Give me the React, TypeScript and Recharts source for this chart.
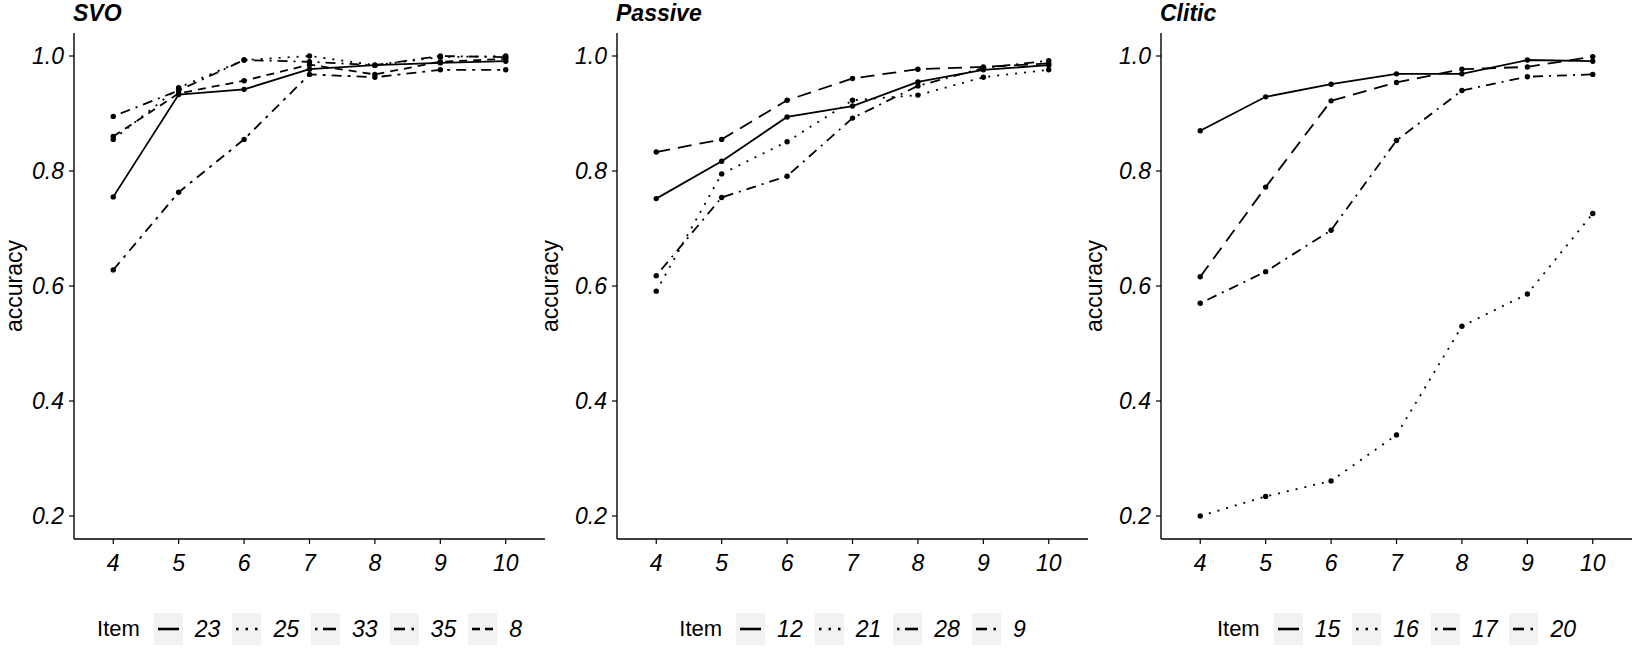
import React from "react";
import { LineChart, Line, XAxis, YAxis } from "recharts";

// x = sentence length (words), y = accuracy
const sizes = [4, 5, 6, 7, 8, 9, 10];
const xTicks = [4, 5, 6, 7, 8, 9, 10];
const yTicks = [0.2, 0.4, 0.6, 0.8, 1.0];

/* ---------- SVO ---------- */
const svoItems = ["23", "25", "33", "35", "8"];
const svo23 = [0.755, 0.933, 0.942, 0.977, 0.984, 0.988, 0.991];
const svo25 = [0.855, 0.945, 0.993, 1.0, 0.984, 0.998, 1.0];
const svo33 = [0.895, 0.94, 0.993, 0.99, 0.984, 1.0, 0.998];
const svo35 = [0.628, 0.763, 0.855, 0.968, 0.963, 0.976, 0.976];
const svo8 = [0.86, 0.935, 0.957, 0.985, 0.968, 0.99, 0.995];

/* ---------- Passive ---------- */
const passiveItems = ["12", "21", "28", "9"];
const passive12 = [0.752, 0.817, 0.894, 0.913, 0.955, 0.976, 0.984];
const passive21 = [0.591, 0.795, 0.851, 0.923, 0.932, 0.963, 0.976];
const passive28 = [0.618, 0.754, 0.791, 0.892, 0.948, 0.979, 0.992];
const passive9 = [0.833, 0.855, 0.923, 0.961, 0.977, 0.981, 0.987];

/* ---------- Clitic ---------- */
const cliticItems = ["15", "16", "17", "20"];
const clitic15 = [0.87, 0.929, 0.951, 0.969, 0.969, 0.993, 0.991];
const clitic16 = [0.2, 0.234, 0.261, 0.341, 0.53, 0.586, 0.726];
const clitic17 = [0.57, 0.625, 0.697, 0.853, 0.94, 0.964, 0.968];
const clitic20 = [0.616, 0.772, 0.922, 0.954, 0.977, 0.981, 0.999];

type KeyKind = "solid" | "dotted" | "dotdash" | "dashdot" | "dashed";

const FONT = '"Liberation Sans", Arial, Helvetica, sans-serif';
const PLOT_W = 471;
const AXIS_W = 74;
const PLOT_TOP = 33;
const PLOT_BOTTOM = 539;

function buildRows(series: number[][]) {
  return sizes.map((s, i) => {
    const row: Record<string, number> = { size: s };
    series.forEach((arr, k) => {
      row[`s${k}`] = arr[i];
    });
    return row;
  });
}

/* small glyphs inside the grey legend keys */
function KeyGlyph({ kind }: { kind: KeyKind }) {
  const common = { stroke: "#000", strokeWidth: 2.6 };
  let body: React.ReactNode = null;
  if (kind === "solid") body = <line x1={4} x2={25} y1={16} y2={16} {...common} />;
  if (kind === "dotted")
    body = (
      <>
        <line x1={4} x2={6.5} y1={16} y2={16} {...common} />
        <line x1={13.5} x2={16} y1={16} y2={16} {...common} />
        <line x1={23} x2={25.5} y1={16} y2={16} {...common} />
      </>
    );
  if (kind === "dotdash")
    body = (
      <>
        <line x1={4} x2={6.5} y1={16} y2={16} {...common} />
        <line x1={12} x2={25} y1={16} y2={16} {...common} />
      </>
    );
  if (kind === "dashdot")
    body = (
      <>
        <line x1={4} x2={15} y1={16} y2={16} {...common} />
        <line x1={21.5} x2={24} y1={16} y2={16} {...common} />
      </>
    );
  if (kind === "dashed")
    body = (
      <>
        <line x1={4} x2={12} y1={16} y2={16} {...common} />
        <line x1={17} x2={25} y1={16} y2={16} {...common} />
      </>
    );
  return (
    <svg width={29} height={32} style={{ display: "block", background: "#f2f2f2" }}>
      {body}
    </svg>
  );
}

type PanelProps = {
  axisX: number;
  title: string;
  items: string[];
  series: number[][];
  dashes: (string | undefined)[];
  keys: KeyKind[];
  labelX?: number; // centre of the rotated y title, relative to panel's left edge
};

function Panel({ axisX, title, items, series, dashes, keys, labelX = 7.2 }: PanelProps) {
  const rows = buildRows(series);
  const left = axisX - AXIS_W;
  const midY = (PLOT_TOP + PLOT_BOTTOM) / 2;
  return (
    <>
      <div style={{ position: "absolute", left, top: 0 }}>
        <LineChart
          width={AXIS_W + PLOT_W + 1}
          height={656}
          data={rows}
          margin={{ top: PLOT_TOP, right: 1, bottom: 0, left: 0 }}
        >
          <XAxis
            dataKey="size"
            type="number"
            domain={[3.4, 10.6]}
            ticks={xTicks}
            interval={0}
            allowDataOverflow
            height={656 - PLOT_BOTTOM}
            tickSize={5}
            tickMargin={11}
            axisLine={{ stroke: "#000", strokeWidth: 1.4 }}
            tickLine={{ stroke: "#000", strokeWidth: 1.2 }}
            tick={{ fill: "#000", fontSize: 23, fontStyle: "italic" }}
          />
          <YAxis
            type="number"
            domain={[0.16, 1.04]}
            ticks={yTicks}
            interval={0}
            allowDataOverflow
            width={AXIS_W}
            tickSize={5}
            tickMargin={5}
            tickFormatter={(v) => Number(v).toFixed(1)}
            axisLine={{ stroke: "#000", strokeWidth: 1.4 }}
            tickLine={{ stroke: "#000", strokeWidth: 1.2 }}
            tick={{ fill: "#000", fontSize: 23, fontStyle: "italic" }}
          />
          {series.map((_, k) => (
            <Line
              key={items[k]}
              type="linear"
              dataKey={`s${k}`}
              name={items[k]}
              stroke="#000"
              strokeWidth={1.8}
              strokeDasharray={dashes[k]}
              dot={{ r: 2.7, fill: "#000", stroke: "none", strokeDasharray: "0" }}
              activeDot={false}
              isAnimationActive={false}
            />
          ))}
        </LineChart>
      </div>

      {/* y axis title, rotated */}
      <div
        style={{
          position: "absolute",
          left: left + labelX - 60,
          top: midY - 7,
          width: 120,
          height: 14,
          lineHeight: "14px",
          fontSize: 23,
          textAlign: "center",
          color: "#000",
          whiteSpace: "nowrap",
          transform: "rotate(-90deg)",
          transformOrigin: "50% 50%",
        }}
      >
        accuracy
      </div>

      {/* facet title */}
      <div
        style={{
          position: "absolute",
          left: axisX - 1,
          top: 0,
          fontSize: 23,
          lineHeight: "26px",
          fontWeight: 700,
          fontStyle: "italic",
          color: "#000",
        }}
      >
        {title}
      </div>

      {/* legend */}
      <div
        style={{
          position: "absolute",
          left: axisX,
          width: PLOT_W,
          top: 613,
          height: 32,
          display: "flex",
          justifyContent: "center",
          alignItems: "center",
          color: "#000",
        }}
      >
        <span style={{ fontSize: 22, marginRight: 14 }}>Item</span>
        {items.map((it, k) => (
          <React.Fragment key={it}>
            <KeyGlyph kind={keys[k]} />
            <span
              style={{
                fontSize: 23,
                fontStyle: "italic",
                marginLeft: 12,
                marginRight: k === items.length - 1 ? 0 : 12,
              }}
            >
              {it}
            </span>
          </React.Fragment>
        ))}
      </div>
    </>
  );
}

export default function App() {
  return (
    <div
      style={{
        position: "relative",
        width: 1633,
        height: 656,
        background: "#fff",
        fontFamily: FONT,
        overflow: "hidden",
      }}
    >
      <style>{"body{margin:0}"}</style>
      <Panel
        axisX={74}
        title="SVO"
        items={svoItems}
        series={[svo23, svo25, svo33, svo35, svo8]}
        dashes={[undefined, "2 7", "2 6 10 6", "10 6 3 6", "8 6"]}
        keys={["solid", "dotted", "dotdash", "dashdot", "dashed"]}
        labelX={13.5}
      />
      <Panel
        axisX={617}
        title="Passive"
        items={passiveItems}
        series={[passive12, passive21, passive28, passive9]}
        dashes={[undefined, "2 7", "2 6 10 6", "14 8"]}
        keys={["solid", "dotted", "dotdash", "dashdot"]}
      />
      <Panel
        axisX={1161}
        title="Clitic"
        items={cliticItems}
        series={[clitic15, clitic16, clitic17, clitic20]}
        dashes={[undefined, "2 7", "2 6 10 6", "14 8"]}
        keys={["solid", "dotted", "dotdash", "dashdot"]}
      />
    </div>
  );
}
